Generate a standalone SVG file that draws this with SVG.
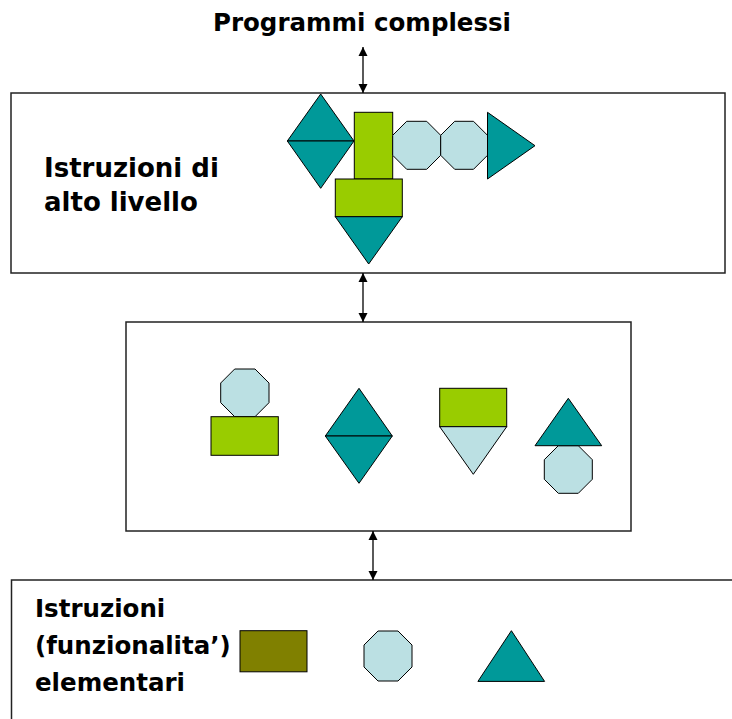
<svg xmlns="http://www.w3.org/2000/svg" width="732" height="719" viewBox="0 0 732 719">
<defs>
<marker id="ah" viewBox="0 0 10 10" refX="10" refY="5" markerWidth="9" markerHeight="10" markerUnits="userSpaceOnUse" orient="auto-start-reverse">
<path d="M0,0 L10,5 L0,10 z" fill="#000"/>
</marker>
<style>
.box{fill:#fff;stroke:#222;stroke-width:1.5}
.lbl{font-family:"DejaVu Sans","Liberation Sans",sans-serif;font-weight:bold;font-size:24.5px;fill:#000}
.big{font-size:26px}
.teal{fill:#009999;stroke:#000;stroke-width:1}
.green{fill:#99CC00;stroke:#000;stroke-width:1}
.lblue{fill:#BBE0E3;stroke:#000;stroke-width:1}
.olive{fill:#808000;stroke:#000;stroke-width:1}
.conn{stroke:#000;stroke-width:1.3;fill:none}
</style>
</defs>
<rect width="732" height="719" fill="#fff"/>
<g id="title">
<text class="lbl" x="362" y="31" text-anchor="middle">Programmi complessi</text>
</g>
<g id="alto-livello">
<rect class="box" x="11" y="93" width="714" height="180"/>
<text class="lbl big" x="44" y="177">Istruzioni di</text>
<text class="lbl big" x="44" y="211">alto livello</text>
<polygon class="teal" points="287.3,141 320.7,94 354,141"/>
<polygon class="teal" points="287.3,141 354,141 320.7,188.3"/>
<rect class="green" x="354.3" y="112.3" width="38.4" height="66.7"/>
<rect class="green" x="335.3" y="179" width="67" height="37.7"/>
<polygon class="teal" points="335.3,216.7 402.3,216.7 368.7,264"/>
<polygon class="lblue" points="406.7,121.3 426.7,121.3 440.7,135.3 440.7,155.3 426.7,169.3 406.7,169.3 392.7,155.3 392.7,135.3"/>
<polygon class="lblue" points="454.7,121.3 473.5,121.3 487.5,135.3 487.5,155.3 473.5,169.3 454.7,169.3 440.7,155.3 440.7,135.3"/>
<polygon class="teal" points="487.5,112.3 535,145.7 487.5,179"/>
</g>
<g id="intermedio">
<rect class="box" x="126" y="322" width="505" height="209"/>
<polygon class="lblue" points="234.7,369 255,369 269,383 269,402.7 255,416.7 234.7,416.7 220.7,402.7 220.7,383"/>
<rect class="green" x="211" y="416.7" width="67.3" height="38.6"/>
<polygon class="teal" points="325.3,436 359,388.3 392.3,436"/>
<polygon class="teal" points="325.3,436 392.3,436 359,483.3"/>
<rect class="green" x="439.7" y="388.3" width="67" height="38.4"/>
<polygon class="lblue" points="439.7,426.7 506.7,426.7 473.3,474.3"/>
<polygon class="lblue" points="558.3,445.7 578.3,445.7 592.3,459.7 592.3,479.3 578.3,493.3 558.3,493.3 544.3,479.3 544.3,459.7"/>
<polygon class="teal" points="535,445.7 568.3,398.3 601.7,445.7"/>
</g>
<g id="elementari">
<rect class="box" x="11.5" y="580" width="740" height="160"/>
<text class="lbl" x="35" y="617">Istruzioni</text>
<text class="lbl" x="35" y="654">(funzionalita’)</text>
<text class="lbl" x="35" y="691">elementari</text>
<rect class="olive" x="240" y="630.7" width="67" height="41.1"/>
<polygon class="lblue" points="378,631 398,631 412,645 412,667 398,681 378,681 364,667 364,645"/>
<polygon class="teal" points="477.9,681.4 511.4,630.7 544.6,681.4"/>
</g>
<g id="connectors">
<line class="conn" x1="363" y1="47" x2="363" y2="93" marker-start="url(#ah)" marker-end="url(#ah)"/>
<line class="conn" x1="363" y1="273" x2="363" y2="322" marker-start="url(#ah)" marker-end="url(#ah)"/>
<line class="conn" x1="373" y1="531" x2="373" y2="580" marker-start="url(#ah)" marker-end="url(#ah)"/>
</g>
</svg>
